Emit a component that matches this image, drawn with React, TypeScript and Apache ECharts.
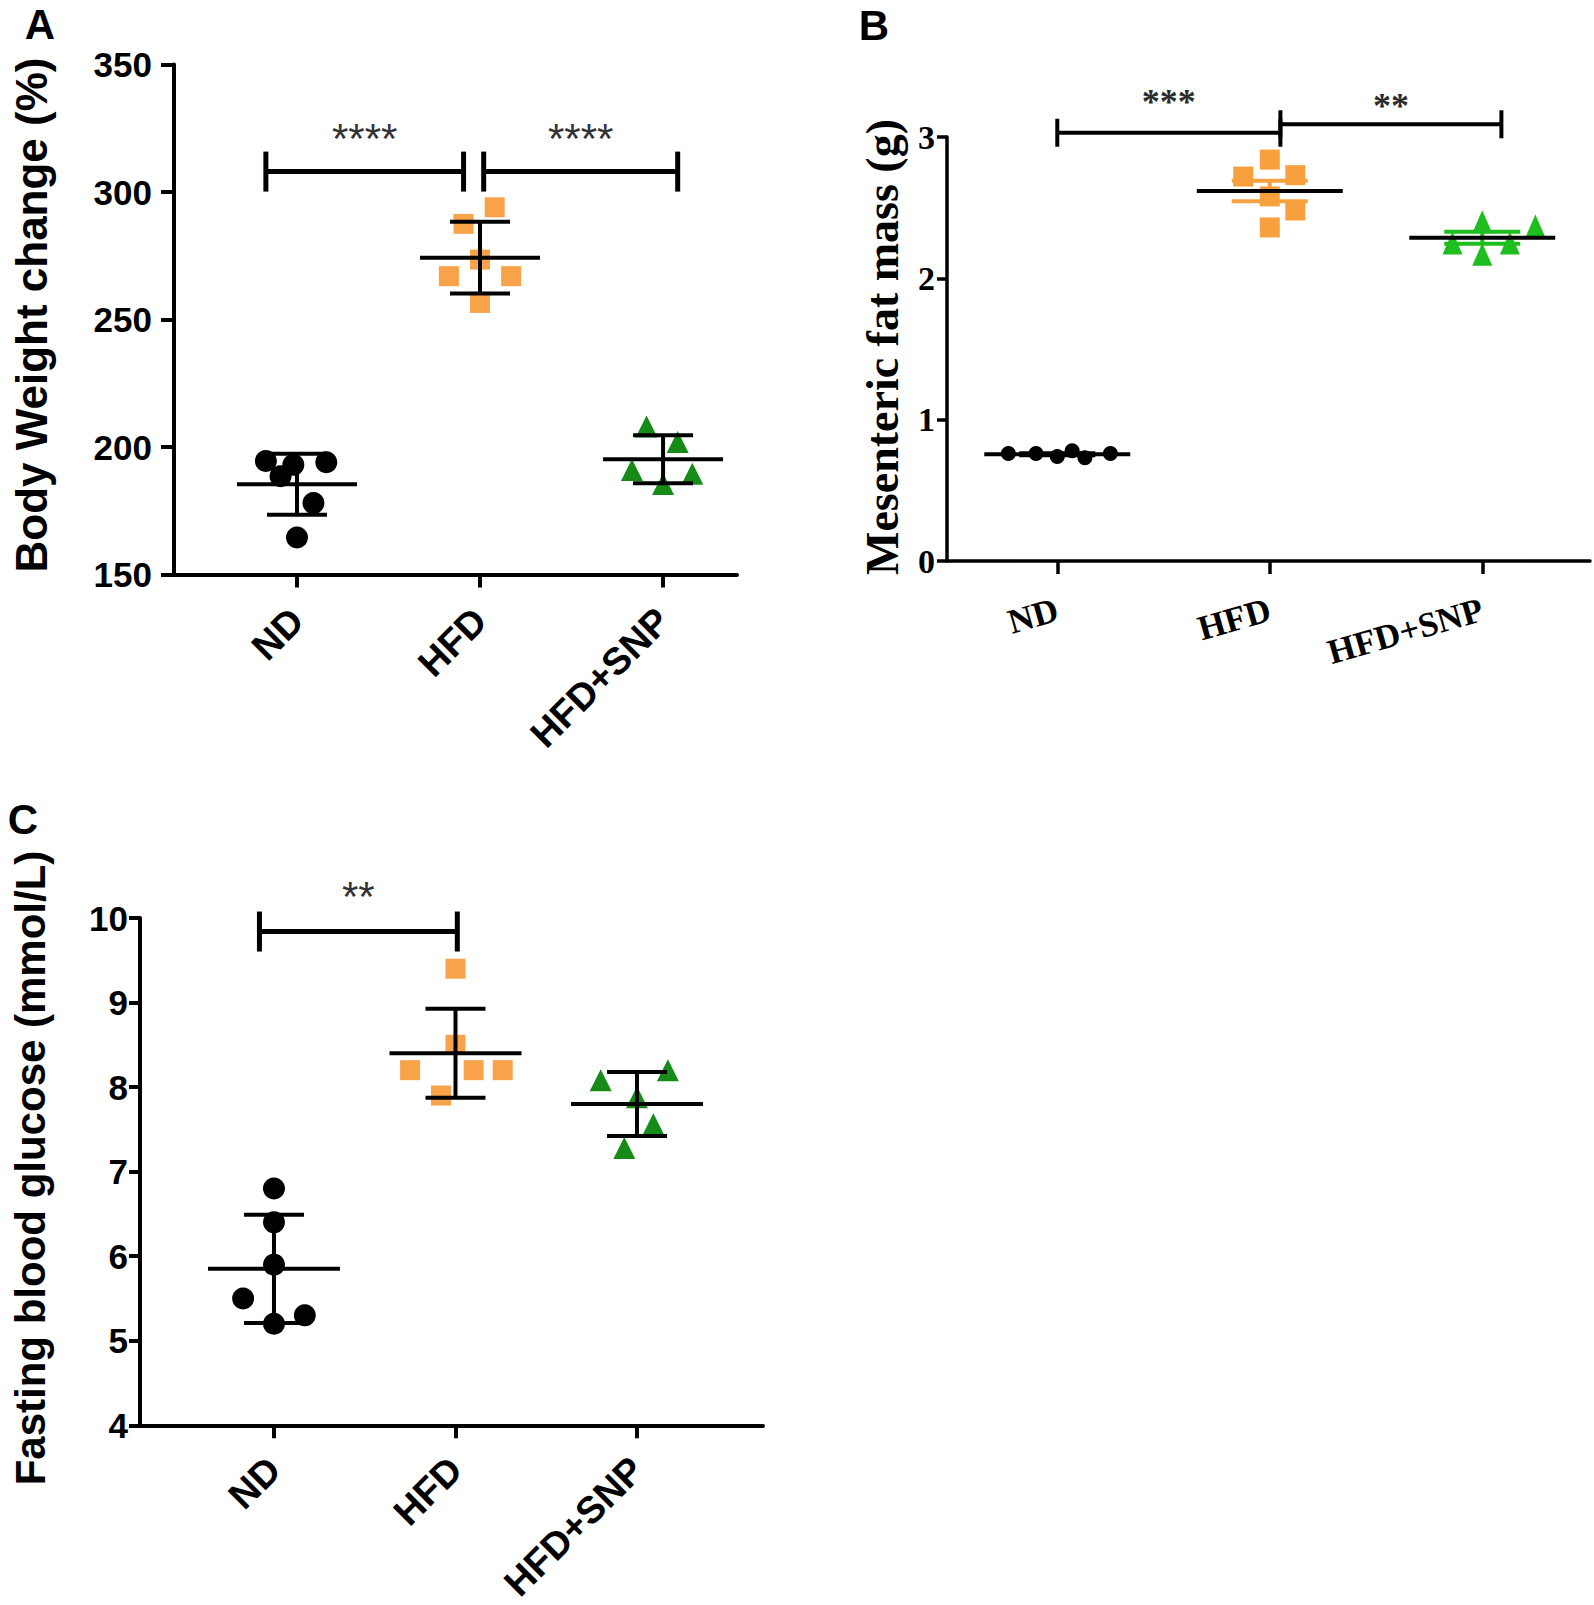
import React, { useEffect, useRef } from "react";
import * as echarts from "echarts";

const categories = ["ND", "HFD", "HFD+SNP"];
const categoryTicks = [0, 1, 2];

// Panel A: Body Weight change (%)
const bwND = [194.5, 193, 194, 188.5, 178, 164.5];
const bwNDJitter = [-0.17, -0.02, 0.16, -0.09, 0.09, 0];
const bwHFD = [294, 287.5, 273.5, 267, 267, 256.5];
const bwHFDJitter = [0.08, -0.09, 0, -0.17, 0.17, 0];
const bwSNP = [208, 202, 191, 189.5, 185.5];
const bwSNPJitter = [-0.09, 0.08, -0.17, 0.16, 0];
const bwAxis = { min: 150, max: 350, interval: 50 };
const bwBrackets = [
  [-0.17, 0.91, 308, 321],
  [1.02, 2.08, 308, 321],
];
const bwStars = ["****", "****"];

// Panel B: Mesenteric fat mass (g)
const fatND = [0.76, 0.76, 0.74, 0.78, 0.73, 0.76];
const fatNDJitter = [-0.23, -0.1, 0, 0.07, 0.13, 0.25];
const fatHFD = [2.72, 2.84, 2.73, 2.58, 2.48, 2.36];
const fatHFDJitter = [-0.125, 0, 0.12, 0, 0.12, 0];
const fatSNP = [2.4, 2.37, 2.17, 2.25, 2.25];
const fatSNPJitter = [0, 0.25, 0, -0.14, 0.13];
const fatAxis = { min: 0, max: 3, interval: 1 };
const fatBrackets = [
  [0, 1.05, 3.03, 3.25],
  [1.05, 2.09, 3.09, 3.22],
];
const fatStars = ["***", "**"];

// Panel C: Fasting blood glucose (mmol/L)
const glND = [6.8, 6.4, 5.9, 5.5, 5.2, 5.3];
const glNDJitter = [0, 0, 0, -0.17, 0, 0.17];
const glHFD = [9.4, 8.5, 8.2, 8.2, 8.2, 7.9];
const glHFDJitter = [0, 0, -0.25, 0.1, 0.26, -0.08];
const glSNP = [8.08, 8.2, 7.88, 7.56, 7.28];
const glSNPJitter = [-0.2, 0.17, 0, 0.09, -0.07];
const glAxis = { min: 4, max: 10, interval: 1 };
const glBrackets = [[-0.08, 1.01, 9.84, 10.26]];
const glStars = ["**"];

const SANS = '"Liberation Sans", Arial, Helvetica, sans-serif';
const SERIF = '"Liberation Serif", "Times New Roman", Times, serif';

const mean = (a: number[]) => a.reduce((s, v) => s + v, 0) / a.length;
const sd = (a: number[]) => {
  const m = mean(a);
  return Math.sqrt(a.reduce((s, v) => s + (v - m) * (v - m), 0) / (a.length - 1));
};
const sem = (a: number[]) => sd(a) / Math.sqrt(a.length);

type PanelCfg = {
  idx: number;
  grid: { left: number; top: number; width: number; height: number };
  xMin: number;
  xMax: number;
  yAxis: { min: number; max: number; interval: number };
  groups: number[][];
  jitters: number[][];
  symbols: string[];
  sizes: any[];
  colors: string[];
  errColors: string[];
  errFn: (a: number[]) => number;
  meanHW: number;
  capHW: number;
  errWidth: number;
  brackets: number[][];
  stars: string[];
  bracketCap: number;
  bracketWidth: number;
  starFont: string;
  starColor: string;
  font: string;
  tickFont: number;
  catFont: number;
  catRotate: number;
  catMargin: number;
  yMargin: number;
  axisWidth: number;
  yTickLen: number;
};

function buildPanel(c: PanelCfg) {
  const grid = { ...c.grid, containLabel: false };
  const xAxis = {
    gridIndex: c.idx,
    type: "value",
    min: c.xMin,
    max: c.xMax,
    axisLine: { show: true, onZero: false, lineStyle: { color: "#000", width: c.axisWidth } },
    axisTick: {
      show: true,
      customValues: categoryTicks,
      length: 13,
      lineStyle: { color: "#000", width: c.axisWidth },
    },
    axisLabel: {
      show: true,
      customValues: categoryTicks,
      formatter: (v: number) => categories[Math.round(v)] ?? "",
      rotate: c.catRotate,
      fontSize: c.catFont,
      fontWeight: "bold",
      fontFamily: c.font,
      color: "#000",
      margin: c.catMargin,
    },
    splitLine: { show: false },
  };
  const yAxis = {
    gridIndex: c.idx,
    type: "value",
    min: c.yAxis.min,
    max: c.yAxis.max,
    interval: c.yAxis.interval,
    axisLine: { show: true, onZero: false, lineStyle: { color: "#000", width: c.axisWidth } },
    axisTick: { show: true, length: c.yTickLen, lineStyle: { color: "#000", width: c.axisWidth } },
    axisLabel: {
      fontSize: c.tickFont,
      fontWeight: "bold",
      fontFamily: c.font,
      color: "#000",
      margin: c.yMargin,
    },
    splitLine: { show: false },
  };
  const series: any[] = [];
  c.groups.forEach((g, gi) => {
    series.push({
      type: "scatter",
      xAxisIndex: c.idx,
      yAxisIndex: c.idx,
      symbol: c.symbols[gi],
      symbolSize: c.sizes[gi],
      itemStyle: { color: c.colors[gi], opacity: 1 },
      data: g.map((v, i) => [gi + c.jitters[gi][i], v]),
      z: 2,
      silent: true,
    });
  });
  series.push({
    type: "custom",
    xAxisIndex: c.idx,
    yAxisIndex: c.idx,
    clip: false,
    z: 3,
    silent: true,
    encode: { x: 0, y: 1 },
    data: c.groups.map((g, gi) => [gi, mean(g), c.errFn(g)]),
    renderItem: (params: any, api: any) => {
      const x = api.value(0);
      const m = api.value(1);
      const e = api.value(2);
      const p = api.coord([x, m]);
      const t = api.coord([x, m + e]);
      const b = api.coord([x, m - e]);
      const col = c.errColors[params.dataIndex];
      const st = { stroke: col, lineWidth: c.errWidth };
      return {
        type: "group",
        children: [
          { type: "line", shape: { x1: p[0], y1: t[1], x2: p[0], y2: b[1] }, style: st },
          { type: "line", shape: { x1: p[0] - c.capHW, y1: t[1], x2: p[0] + c.capHW, y2: t[1] }, style: st },
          { type: "line", shape: { x1: p[0] - c.capHW, y1: b[1], x2: p[0] + c.capHW, y2: b[1] }, style: st },
          {
            type: "line",
            shape: { x1: p[0] - c.meanHW, y1: p[1], x2: p[0] + c.meanHW, y2: p[1] },
            style: { stroke: "#000", lineWidth: c.errWidth },
          },
        ],
      };
    },
  });
  series.push({
    type: "custom",
    xAxisIndex: c.idx,
    yAxisIndex: c.idx,
    clip: false,
    z: 4,
    silent: true,
    encode: { x: [0, 1], y: [2, 3] },
    data: c.brackets,
    renderItem: (params: any, api: any) => {
      const x1 = api.value(0);
      const x2 = api.value(1);
      const y = api.value(2);
      const ly = api.value(3);
      const p1 = api.coord([x1, y]);
      const p2 = api.coord([x2, y]);
      const pl = api.coord([(x1 + x2) / 2, ly]);
      const st = { stroke: "#000", lineWidth: c.bracketWidth };
      return {
        type: "group",
        children: [
          { type: "line", shape: { x1: p1[0], y1: p1[1], x2: p2[0], y2: p2[1] }, style: st },
          { type: "line", shape: { x1: p1[0], y1: p1[1] - c.bracketCap, x2: p1[0], y2: p1[1] + c.bracketCap }, style: st },
          { type: "line", shape: { x1: p2[0], y1: p2[1] - c.bracketCap, x2: p2[0], y2: p2[1] + c.bracketCap }, style: st },
          {
            type: "text",
            style: {
              text: c.stars[params.dataIndex],
              x: pl[0],
              y: pl[1],
              textAlign: "center",
              textVerticalAlign: "middle",
              font: c.starFont,
              fill: c.starColor,
            },
          },
        ],
      };
    },
  });
  return { grid, xAxis, yAxis, series };
}

const ORANGE = "#F8A24A";
const GREEN = "#178B17";
const ORANGE_B = "#F7A03E";
const GREEN_B = "#1EBE1E";

export default function App() {
  const ref = useRef<HTMLDivElement>(null);
  useEffect(() => {
    if (!ref.current) return;
    const chart = echarts.init(ref.current, undefined, { renderer: "svg" });

    const symbols = ["circle", "rect", "triangle"];

    const pA = buildPanel({
      idx: 0,
      grid: { left: 174, top: 64.5, width: 563, height: 510 },
      xMin: -0.672,
      xMax: 2.404,
      yAxis: bwAxis,
      groups: [bwND, bwHFD, bwSNP],
      jitters: [bwNDJitter, bwHFDJitter, bwSNPJitter],
      symbols,
      sizes: [22, 20, 22],
      colors: ["#000", ORANGE, GREEN],
      errColors: ["#000", "#000", "#000"],
      errFn: sd,
      meanHW: 60,
      capHW: 30,
      errWidth: 4,
      brackets: bwBrackets,
      stars: bwStars,
      bracketCap: 20,
      bracketWidth: 5,
      starFont: `42px ${SANS}`,
      starColor: "#333",
      font: SANS,
      tickFont: 35,
      catFont: 38,
      catRotate: 45,
      catMargin: 40,
      yMargin: 22,
      axisWidth: 4,
      yTickLen: 13,
    });

    const pB = buildPanel({
      idx: 1,
      grid: { left: 947, top: 137, width: 643, height: 424 },
      xMin: -0.519,
      xMax: 2.507,
      yAxis: fatAxis,
      groups: [fatND, fatHFD, fatSNP],
      jitters: [fatNDJitter, fatHFDJitter, fatSNPJitter],
      symbols,
      sizes: [15, 20, [20, 23]],
      colors: ["#000", ORANGE_B, GREEN_B],
      errColors: ["#000", ORANGE_B, GREEN_B],
      errFn: sem,
      meanHW: 73,
      capHW: 38,
      errWidth: 4,
      brackets: fatBrackets,
      stars: fatStars,
      bracketCap: 14,
      bracketWidth: 4,
      starFont: `bold 36px ${SERIF}`,
      starColor: "#2b2b2b",
      font: SERIF,
      tickFont: 34,
      catFont: 35,
      catRotate: 16,
      catMargin: 48,
      yMargin: 12,
      axisWidth: 3.5,
      yTickLen: 10,
    });

    const pC = buildPanel({
      idx: 2,
      grid: { left: 140, top: 918, width: 623, height: 508 },
      xMin: -0.738,
      xMax: 2.694,
      yAxis: glAxis,
      groups: [glND, glHFD, glSNP],
      jitters: [glNDJitter, glHFDJitter, glSNPJitter],
      symbols,
      sizes: [22, 20, 22],
      colors: ["#000", ORANGE, GREEN],
      errColors: ["#000", "#000", "#000"],
      errFn: sd,
      meanHW: 66,
      capHW: 30,
      errWidth: 4,
      brackets: glBrackets,
      stars: glStars,
      bracketCap: 20,
      bracketWidth: 5,
      starFont: `42px ${SANS}`,
      starColor: "#333",
      font: SANS,
      tickFont: 35,
      catFont: 38,
      catRotate: 45,
      catMargin: 38,
      yMargin: 12,
      axisWidth: 4,
      yTickLen: 11,
    });

    const titleText = (x: number, y: number, text: string, font: string, rot: number) => ({
      type: "text",
      x,
      y,
      rotation: rot,
      silent: true,
      style: {
        text,
        x: 0,
        y: 0,
        textAlign: "center",
        textVerticalAlign: "middle",
        font,
        fill: "#000",
      },
    });

    chart.setOption({
      animation: false,
      backgroundColor: "#fff",
      grid: [pA.grid, pB.grid, pC.grid],
      xAxis: [pA.xAxis, pB.xAxis, pC.xAxis],
      yAxis: [pA.yAxis, pB.yAxis, pC.yAxis],
      series: [...pA.series, ...pB.series, ...pC.series],
      graphic: [
        titleText(40, 24, "A", `bold 42px ${SANS}`, 0),
        titleText(874, 25, "B", `bold 42px ${SANS}`, 0),
        titleText(23, 819, "C", `bold 42px ${SANS}`, 0),
        titleText(31, 315, "Body Weight change (%)", `bold 44px ${SANS}`, Math.PI / 2),
        titleText(882, 347, "Mesenteric fat mass (g)", `bold 46px ${SERIF}`, Math.PI / 2),
        titleText(30, 1168, "Fasting blood glucose (mmol/L)", `bold 42px ${SANS}`, Math.PI / 2),
      ],
    });
    return () => chart.dispose();
  }, []);
  return (
    <div
      ref={ref}
      style={{ position: "absolute", left: 0, top: 0, width: 1594, height: 1605, background: "#fff" }}
    />
  );
}
